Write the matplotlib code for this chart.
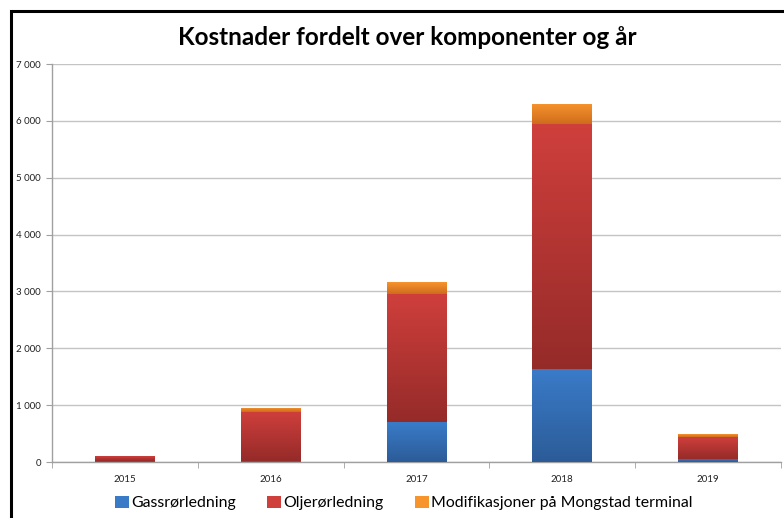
import matplotlib.pyplot as plt
import numpy as np
from matplotlib.colors import LinearSegmentedColormap
from matplotlib.patches import Rectangle
from matplotlib.ticker import FuncFormatter

years = ["2015", "2016", "2017", "2018", "2019"]
gass = [25, 12, 700, 1630, 60]
olje = [80, 862, 2260, 4310, 385]
mongstad = [8, 80, 210, 360, 48]

series = [
    ("Gassrørledning", gass, "#3a7bc8", "#2c5c98"),
    ("Oljerørledning", olje, "#cf3f3c", "#952b29"),
    ("Modifikasjoner på Mongstad terminal", mongstad, "#f7942c", "#cf6c1d"),
]

plt.rcParams['font.family'] = ['Lato', 'DejaVu Sans']

fig = plt.figure(figsize=(7.84, 5.18), dpi=100)
ax = fig.add_axes([0.0663, 0.1081, 0.9297, 0.7683])

x = np.arange(len(years))
bottom = np.zeros(len(years))
grad = np.linspace(0, 1, 100).reshape(-1, 1)
handles = []
for name, vals, light, dark in series:
    bars = ax.bar(x, vals, 0.41, bottom=bottom, color=light, label=name, zorder=3)
    cmap = LinearSegmentedColormap.from_list(name, [dark, light])
    for p in bars:
        # gradient per segment, darker at the bottom
        im = ax.imshow(grad, cmap=cmap, aspect='auto', origin='lower', zorder=3.5,
                       extent=[p.get_x(), p.get_x() + p.get_width(),
                               p.get_y(), p.get_y() + p.get_height()])
        im.set_clip_path(p)
    bottom += np.array(vals)
    handles.append(bars)

ax.set_xlim(-0.5, len(years) - 0.5)
ax.set_ylim(0, 7000)
ax.set_yticks(np.arange(0, 7001, 1000))
ax.yaxis.set_major_formatter(FuncFormatter(lambda v, _: f"{int(v):,}".replace(",", " ")))
ax.grid(axis='y', color='#c4c4c4', linewidth=1.0, zorder=0)

ax.set_xticks(x)
ax.set_xticklabels(years)
ax.set_xticks(np.arange(-0.5, len(years), 1), minor=True)
ax.tick_params(axis='x', which='major', length=0, labelsize=7, pad=9, colors='#222222')
ax.tick_params(axis='x', which='minor', length=4, color='#a0a0a0', direction='out')
ax.tick_params(axis='y', length=4, color='#a0a0a0', labelsize=7, pad=4, colors='#222222')
ax.tick_params(axis='y', color='#a0a0a0')

for s in ['top', 'right']:
    ax.spines[s].set_visible(False)
for s in ['left', 'bottom']:
    ax.spines[s].set_color('#a0a0a0')
    ax.spines[s].set_linewidth(1.0)

fig.text(0.52, 0.928, "Kostnader fordelt over komponenter og år", ha='center', va='center',
         fontsize=17.5, fontweight='bold', color='black')

fig.legend(handles=handles, loc='center', bbox_to_anchor=(0.515, 0.029), ncol=3,
           frameon=False, fontsize=11.4, handlelength=0.85, handleheight=0.85,
           handletextpad=0.15, columnspacing=2.0)

# outer chart border (partly cropped)
fig.patches.append(Rectangle((11 / 784, -0.05), 1.1, 1 - 11 / 518 + 0.05, transform=fig.transFigure,
                             fill=False, edgecolor='black', linewidth=2.2, zorder=10))

fig.savefig("out.png", dpi=100)
